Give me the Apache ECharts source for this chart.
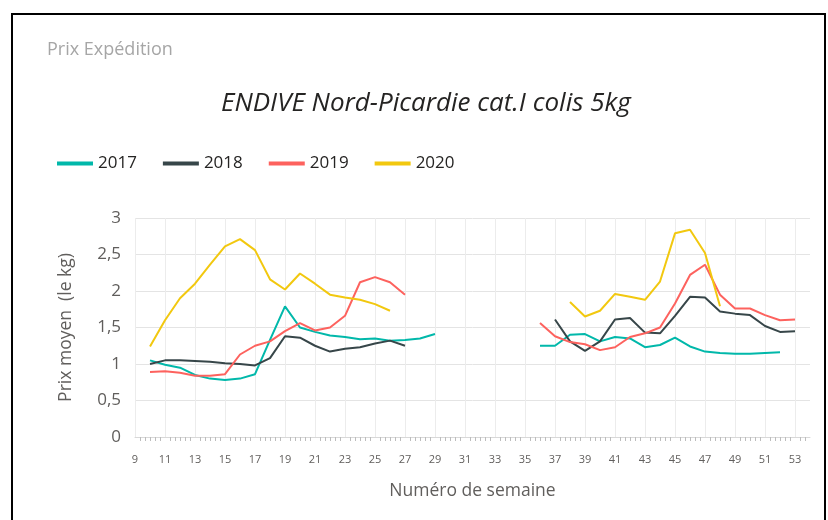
<!DOCTYPE html>
<html lang="fr">

<head>
  <meta charset="UTF-8">
  <title>Prix Expédition</title>
  <style>
    * {
      margin: 0;
      padding: 0;
    }

    body {
      background-color: #ffffff;
    }

    .box {
      width: 828px;
      height: 520px;
    }
  </style>
</head>

<body>
  <div class="box"></div>

  <script src="https://cdn.jsdelivr.net/npm/echarts@6/dist/echarts.min.js"></script>
  <script>
    // semaines 10 -> 53
    const weeks = [10, 11, 12, 13, 14, 15, 16, 17, 18, 19, 20, 21, 22, 23, 24, 25, 26, 27, 28, 29,
      30, 31, 32, 33, 34, 35,
      36, 37, 38, 39, 40, 41, 42, 43, 44, 45, 46, 47, 48, 49, 50, 51, 52, 53];

    const years = ['2017', '2018', '2019', '2020'];
    const colors = ['#01B8AA', '#374649', '#FD625E', '#F2C80F'];

    const v2017 = [1.05, 0.99, 0.95, 0.85, 0.80, 0.78, 0.80, 0.86, 1.33, 1.79, 1.50, 1.44, 1.39, 1.37, 1.34, 1.35, 1.32, 1.33, 1.35, 1.41,
      null, null, null, null, null, null,
      1.25, 1.25, 1.40, 1.41, 1.31, 1.37, 1.35, 1.23, 1.26, 1.36, 1.24, 1.17, 1.15, 1.14, 1.14, 1.15, 1.16, null];

    const v2018 = [1.00, 1.05, 1.05, 1.04, 1.03, 1.01, 1.00, 0.98, 1.08, 1.38, 1.36, 1.25, 1.17, 1.21, 1.23, 1.28, 1.32, 1.25, null, null,
      null, null, null, null, null, null,
      null, 1.61, 1.31, 1.18, 1.31, 1.61, 1.63, 1.43, 1.42, 1.66, 1.92, 1.91, 1.72, 1.69, 1.67, 1.52, 1.44, 1.45];

    const v2019 = [0.89, 0.90, 0.88, 0.84, 0.84, 0.86, 1.13, 1.25, 1.31, 1.45, 1.56, 1.46, 1.50, 1.66, 2.12, 2.19, 2.12, 1.95, null, null,
      null, null, null, null, null, null,
      1.56, 1.38, 1.30, 1.27, 1.19, 1.23, 1.37, 1.42, 1.50, 1.83, 2.22, 2.36, 1.95, 1.76, 1.76, 1.67, 1.60, 1.61];

    const v2020 = [1.24, 1.60, 1.90, 2.10, 2.36, 2.61, 2.71, 2.56, 2.16, 2.02, 2.24, 2.10, 1.95, 1.91, 1.88, 1.82, 1.73, null, null, null,
      null, null, null, null, null, null,
      null, null, 1.85, 1.65, 1.73, 1.96, 1.92, 1.88, 2.13, 2.79, 2.84, 2.52, 1.79, null, null, null, null, null];

    const values = [v2017, v2018, v2019, v2020];

    const font = 'Open Sans';

    var myChart = echarts.init(document.querySelector('.box'));

    //construire les séries [semaine, prix]
    let series = [];
    years.forEach((y, i) => {
      series.push({
        name: y,
        type: 'line',
        symbol: 'none',
        connectNulls: false,
        lineStyle: { width: 2, color: colors[i] },
        itemStyle: { color: colors[i] },
        data: weeks.map((w, k) => [w, values[i][k]])
      });
    });

    var option = {
      animation: false,
      title: [
        {
          text: 'Prix Expédition',
          left: 42,
          top: 36,
          textStyle: { fontFamily: font, fontSize: 18, fontWeight: 'normal', color: '#a6a6a6' }
        },
        {
          text: 'ENDIVE Nord-Picardie cat.I colis 5kg',
          left: 216,
          top: 86,
          textStyle: { fontFamily: font, fontSize: 26, fontWeight: 'normal', fontStyle: 'italic', color: '#252423' }
        }
      ],
      legend: {
        data: years,
        left: 52,
        top: 150,
        icon: 'rect',
        itemWidth: 36,
        itemHeight: 4,
        itemGap: 26,
        textStyle: { fontFamily: font, fontSize: 17, color: '#252423' }
      },
      graphic: [{
        type: 'rect',
        shape: { x: 12, y: 14, width: 813, height: 520 },
        style: { fill: 'none', stroke: '#000', lineWidth: 2 }
      }],
      grid: {
        left: 135,
        right: 18,
        top: 218,
        bottom: 83
      },
      xAxis: {
        type: 'value',
        min: 9,
        max: 54,
        interval: 2,
        name: 'Numéro de semaine',
        nameLocation: 'middle',
        nameGap: 45,
        nameTextStyle: { fontFamily: font, fontSize: 17.5, color: '#605e5c' },
        axisLine: { lineStyle: { color: '#d8d8d8' } },
        axisTick: { show: false },
        minorTick: { show: true, splitNumber: 6, length: 4, lineStyle: { color: '#bdbdbd' } },
        axisLabel: {
          showMaxLabel: false,
          fontFamily: font,
          fontSize: 11,
          color: '#605e5c',
          margin: 17
        },
        splitLine: { show: true, showMaxLine: false, lineStyle: { color: '#ececec' } }
      },
      yAxis: {
        type: 'value',
        min: 0,
        max: 3,
        interval: 0.5,
        name: 'Prix moyen  (le kg)',
        nameLocation: 'middle',
        nameGap: 60,
        nameTextStyle: { fontFamily: font, fontSize: 17.5, color: '#605e5c' },
        axisLine: { show: false },
        axisTick: { show: false },
        axisLabel: {
          fontFamily: font,
          fontSize: 17,
          color: '#605e5c',
          margin: 14,
          formatter: v => String(v).replace('.', ',')
        },
        splitLine: { lineStyle: { color: '#e4e4e4' } }
      },
      series: series
    };
    myChart.setOption(option);
  </script>
</body>

</html>
